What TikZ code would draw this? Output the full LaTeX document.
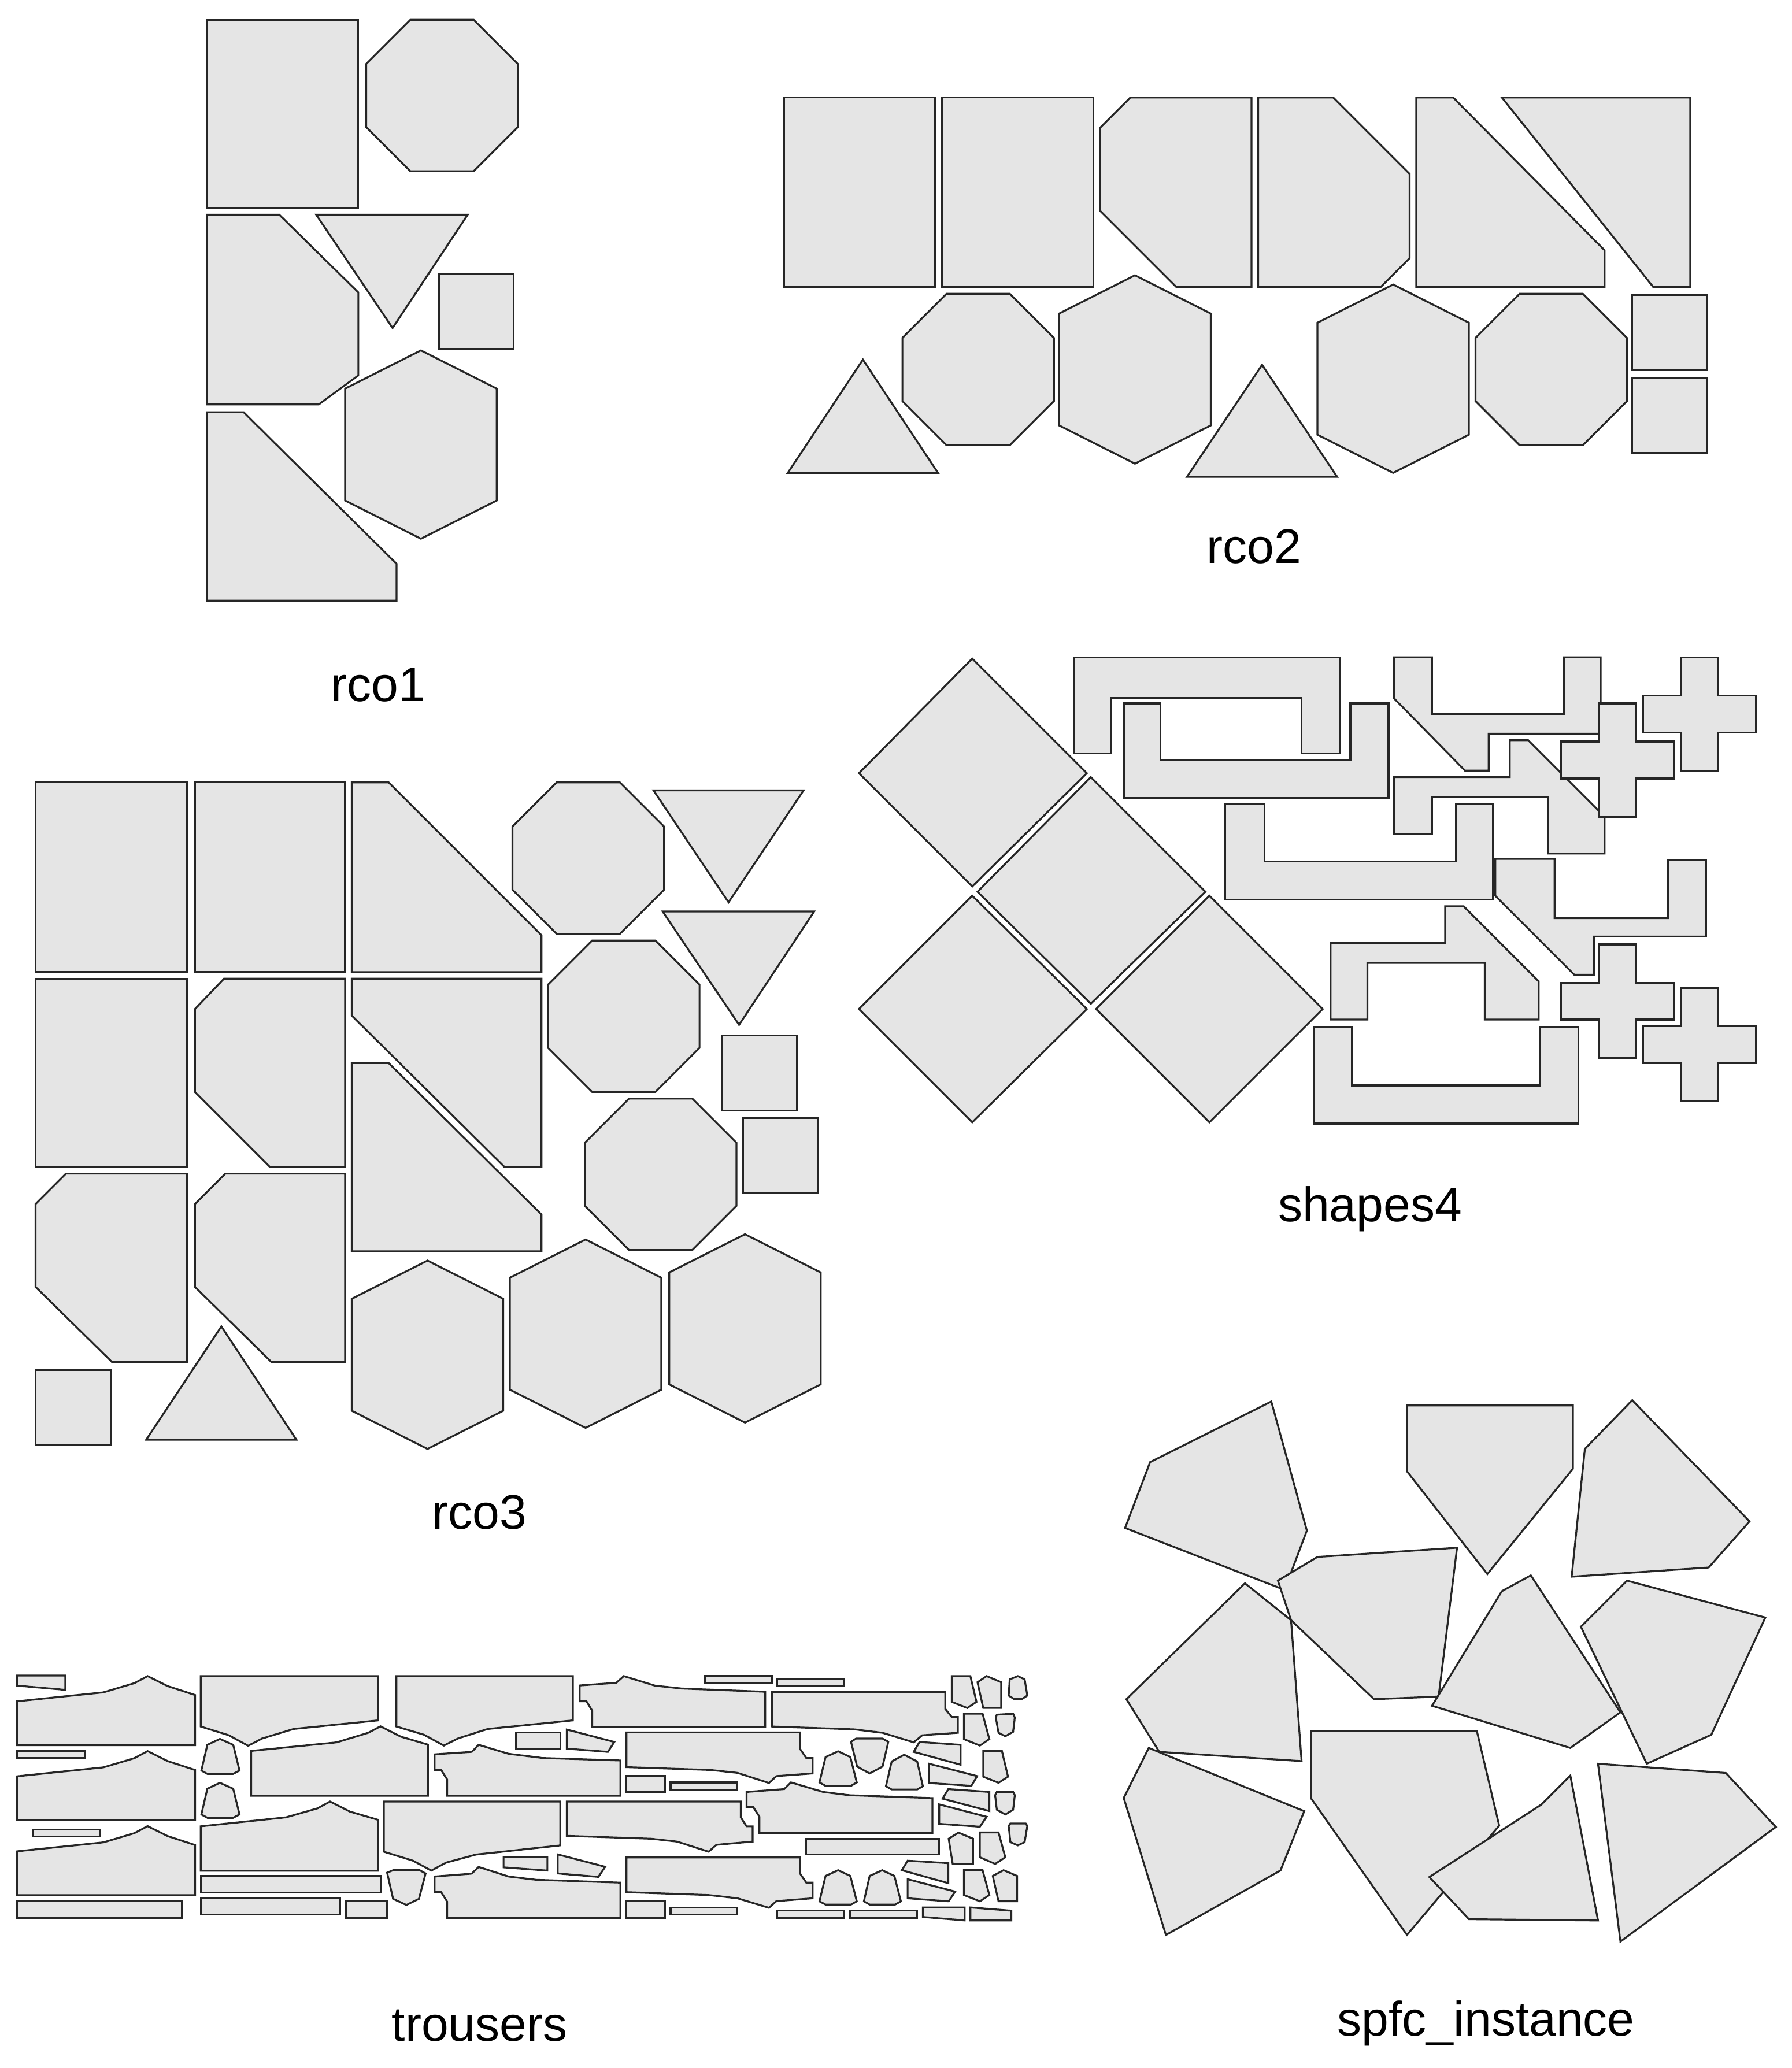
\documentclass[tikz,border=0pt]{standalone}
\usepackage{fontspec}
\setmainfont{Liberation Sans}
\begin{document}
\begin{tikzpicture}[x=0.02cm,y=-0.02cm,
 pc/.style={draw=black!85,fill=gray!20,line width=0.8pt,line join=miter},
 lbl/.style={font=\fontsize{21}{25}\selectfont}]
\useasboundingbox (0,0) rectangle (1360,1570);
\newcommand\poly[1]{\draw[pc] #1 -- cycle;}
\newcommand\oct[2]{\draw[pc] (#1+33.5,#2) -- ++(48,0) -- ++(33.5,33.5) -- ++(0,48) -- ++(-33.5,33.5) -- ++(-48,0) -- ++(-33.5,-33.5) -- ++(0,-48) -- cycle;}
\newcommand\hex[2]{\draw[pc] (#1+57.5,#2) -- ++(57.5,29) -- ++(0,85) -- ++(-57.5,29) -- ++(-57.5,-29) -- ++(0,-85) -- cycle;}
\newcommand\sq[2]{\draw[pc] (#1,#2) rectangle ++(57,57);}
\newcommand\crs[2]{\draw[pc] (#1-14,#2-43) -- ++(28,0) -- ++(0,29) -- ++(29,0) -- ++(0,28) -- ++(-29,0) -- ++(0,29) -- ++(-28,0) -- ++(0,-29) -- ++(-29,0) -- ++(0,-28) -- ++(29,0) -- cycle;}
% ---------- rco1
\draw[pc] (157,15) rectangle (272,158);
\oct{278}{15}
\poly{(157,163)--(212,163)--(272,222)--(272,285)--(242,307)--(157,307)}
\poly{(240,163)--(355,163)--(298,249)}
\sq{333}{208}
\hex{262}{266}
\poly{(157,313)--(185,313)--(301,428)--(301,456)--(157,456)}
\node[lbl] (l1) at (287,520) {rco1};
% ---------- rco2
\draw[pc] (595,74) rectangle (710,218);
\draw[pc] (715,74) rectangle (830,218);
\poly{(858,74)--(950,74)--(950,218)--(893,218)--(835,160)--(835,97)}
\poly{(955,74)--(1012,74)--(1070,132)--(1070,196)--(1048,218)--(955,218)}
\poly{(1075,74)--(1103,74)--(1218,190)--(1218,218)--(1075,218)}
\poly{(1140,74)--(1283,74)--(1283,218)--(1255,218)}
\poly{(598,359)--(712,359)--(655,273)}
\oct{685}{223}
\hex{804}{209}
\poly{(901,362)--(1015,362)--(958,277)}
\hex{1000}{216}
\oct{1120}{223}
\sq{1239}{224}
\sq{1239}{287}
\node[lbl] (l2) at (952,415) {rco2};
% ---------- shapes4
\poly{(738,500)--(825,587)--(738,673)--(652,587)}
\poly{(828,590)--(915,677)--(828,762)--(742,677)}
\poly{(738,680)--(825,766)--(738,852)--(652,766)}
\poly{(918,680)--(1004,766)--(918,852)--(832,766)}
\poly{(815,499)--(1017,499)--(1017,572)--(988,572)--(988,530)--(843,530)--(843,572)--(815,572)}
\poly{(853,534)--(881,534)--(881,577)--(1025,577)--(1025,534)--(1054,534)--(1054,606)--(853,606)}
\poly{(1058,499)--(1087,499)--(1087,542)--(1187,542)--(1187,499)--(1215,499)--(1215,557)--(1130,557)--(1130,585)--(1112,585)--(1058,530)}
\poly{(1146,562)--(1160,562)--(1218,620)--(1218,648)--(1175,648)--(1175,605)--(1087,605)--(1087,633)--(1058,633)--(1058,590)--(1146,590)}
\poly{(930,610)--(960,610)--(960,654)--(1105,654)--(1105,610)--(1133,610)--(1133,683)--(930,683)}
\poly{(1135,680)--(1135,652)--(1150,652)--(1180,652)--(1180,697)--(1266,697)--(1266,653)--(1295,653)--(1295,711)--(1210,711)--(1210,740)--(1195,740)}
\poly{(1010,716)--(1097,716)--(1097,688)--(1111,688)--(1168,745)--(1168,774)--(1127,774)--(1127,731)--(1038,731)--(1038,774)--(1010,774)}
\poly{(997,780)--(1026,780)--(1026,824)--(1169,824)--(1169,780)--(1198,780)--(1198,853)--(997,853)}
\crs{1228}{577}
\crs{1290}{542}
\crs{1228}{760}
\crs{1290}{793}
\node[lbl] (l4) at (1040,918) {shapes4};
% ---------- rco3
\draw[pc] (27,594) rectangle (142,738);
\draw[pc] (148,594) rectangle (262,738);
\poly{(267,594)--(295,594)--(411,710)--(411,738)--(267,738)}
\oct{389}{594}
\poly{(496,600)--(610,600)--(553,685)}
\poly{(503,692)--(618,692)--(561,778)}
\draw[pc] (27,743) rectangle (142,886);
\poly{(170,743)--(262,743)--(262,886)--(205,886)--(148,829)--(148,766)}
\poly{(267,743)--(411,743)--(411,886)--(383,886)--(267,771)}
\oct{416}{714}
\sq{548}{786}
\poly{(267,807)--(295,807)--(411,922)--(411,950)--(267,950)}
\oct{444}{834}
\sq{564}{849}
\poly{(50,891)--(142,891)--(142,1034)--(85,1034)--(27,977)--(27,914)}
\poly{(171,891)--(262,891)--(262,1034)--(206,1034)--(148,977)--(148,914)}
\hex{267}{957}
\hex{387}{941}
\hex{508}{937}
\sq{27}{1040}
\poly{(111,1093)--(225,1093)--(168,1007)}
\node[lbl] (l3) at (364,1148) {rco3};
% ---------- spfc_instance
\poly{(873,1110)--(965,1064)--(992,1162)--(975,1207)--(854,1160)}
\poly{(1068,1067)--(1194,1067)--(1194,1115)--(1129,1195)--(1068,1117)}
\poly{(1239,1063)--(1328,1155)--(1297,1190)--(1193,1197)--(1203,1100)}
\poly{(855,1290)--(945,1202)--(980,1230)--(988,1337)--(880,1330)}
\poly{(970,1200)--(1000,1182)--(1106,1175)--(1092,1288)--(1043,1290)--(980,1230)}
\poly{(1087,1295)--(1140,1208)--(1162,1196)--(1230,1300)--(1192,1327)}
\poly{(1200,1235)--(1235,1200)--(1340,1228)--(1299,1317)--(1250,1339)}
\poly{(853,1365)--(872,1327)--(990,1375)--(972,1420)--(885,1469)}
\poly{(995,1365)--(995,1314)--(1121,1314)--(1138,1386)--(1068,1469)}
\poly{(1085,1425)--(1170,1370)--(1192,1348)--(1213,1458)--(1115,1457)}
\poly{(1213,1339)--(1310,1346)--(1348,1387)--(1230,1474)}
\node[lbl] (l5) at (1128,1536) {spfc\_instance};
% ---------- trousers (zoom frame 1)
\begin{scope}[shift={(0,1253.2)},xscale=0.2518,yscale=0.1449]
\poly{(52,130)--(197,130)--(197,205)--(52,183)}
\poly{(52,265)--(312,218)--(405,170)--(445,133)--(505,185)--(588,232)--(588,495)--(52,495)}
\draw[pc] (52,525) rectangle (255,563);
\poly{(52,658)--(312,611)--(405,563)--(445,526)--(505,578)--(588,625)--(588,888)--(52,888)}
\draw[pc] (100,937) rectangle (302,973);
\poly{(52,1051)--(312,1004)--(405,956)--(445,919)--(505,971)--(588,1018)--(588,1281)--(52,1281)}
\draw[pc] (52,1312) rectangle (549,1400);
\poly{(605,133)--(1140,133)--(1140,365)--(885,410)--(790,460)--(748,498)--(690,443)--(605,397)}
\poly{(625,493)--(663,462)--(703,493)--(722,628)--(702,646)--(626,646)--(607,628)}
\poly{(625,723)--(663,692)--(703,723)--(722,858)--(702,876)--(626,876)--(607,858)}
\poly{(757,525)--(1015,480)--(1110,430)--(1147,396)--(1208,450)--(1290,492)--(1290,760)--(757,760)}
\poly{(605,920)--(862,873)--(957,826)--(995,790)--(1055,843)--(1140,886)--(1140,1153)--(605,1153)}
\draw[pc] (605,1180) rectangle (1148,1267);
\draw[pc] (605,1298) rectangle (1025,1383);
\draw[pc] (1043,1312) rectangle (1167,1400);
\poly{(1167,1163)--(1185,1150)--(1265,1150)--(1283,1167)--(1263,1300)--(1225,1332)--(1185,1300)}
\poly{(1195,133)--(1727,133)--(1727,365)--(1470,410)--(1380,460)--(1338,497)--(1278,440)--(1195,397)}
\poly{(1310,543)--(1422,530)--(1443,493)--(1533,540)--(1635,562)--(1870,575)--(1870,760)--(1348,760)--(1348,675)--(1330,625)--(1310,625)}
\poly{(1157,790)--(1689,790)--(1689,1020)--(1435,1068)--(1345,1110)--(1300,1152)--(1245,1100)--(1157,1053)}
\poly{(1518,1082)--(1650,1082)--(1650,1152)--(1518,1135)}
\poly{(1310,1183)--(1422,1168)--(1443,1133)--(1533,1183)--(1615,1200)--(1870,1215)--(1870,1400)--(1348,1400)--(1348,1315)--(1330,1265)--(1310,1265)}
\end{scope}
% ---------- trousers (zoom frame 2)
\begin{scope}[shift={(386,1253.2)},xscale=0.2574,yscale=0.1449]
\poly{(210,182)--(318,168)--(340,133)--(432,183)--(510,198)--(757,215)--(757,400)--(247,400)--(247,315)--(230,265)--(210,265)}
\draw[pc] (580,133) rectangle (777,170);
\draw[pc] (793,150) rectangle (990,187);
\poly{(777,217)--(1288,217)--(1288,305)--(1307,347)--(1325,347)--(1325,430)--(1220,443)--(1195,480)--(1103,430)--(1020,412)--(777,397)}
\poly{(1307,133)--(1362,133)--(1380,268)--(1353,300)--(1307,268)}
\poly{(1383,165)--(1410,133)--(1453,165)--(1453,300)--(1400,300)}
\poly{(1478,150)--(1502,133)--(1522,150)--(1530,235)--(1515,252)--(1490,252)--(1475,235)}
\poly{(1343,330)--(1398,330)--(1418,463)--(1390,497)--(1343,463)}
\poly{(1440,335)--(1488,330)--(1493,350)--(1488,425)--(1465,448)--(1445,430)--(1437,350)}
\draw[pc] (22,428) rectangle (153,513);
\poly{(172,413)--(312,478)--(293,530)--(172,513)}
\poly{(348,428)--(860,428)--(860,515)--(878,562)--(897,562)--(897,643)--(790,657)--(768,693)--(675,640)--(597,625)--(348,610)}
\poly{(1010,477)--(1025,460)--(1103,460)--(1120,477)--(1103,607)--(1065,643)--(1028,607)}
\poly{(935,557)--(972,527)--(1008,557)--(1027,690)--(1010,708)--(935,708)--(917,690)}
\poly{(1130,580)--(1167,545)--(1205,580)--(1222,710)--(1205,727)--(1130,727)--(1113,710)}
\poly{(1212,478)--(1333,493)--(1333,597)--(1195,530)}
\poly{(1240,592)--(1382,657)--(1365,708)--(1240,693)}
\poly{(1400,525)--(1455,525)--(1473,660)--(1445,692)--(1400,660)}
\draw[pc] (348,657) rectangle (462,742);
\draw[pc] (478,690) rectangle (675,728);
\poly{(702,740)--(813,725)--(833,690)--(928,740)--(1005,757)--(1250,772)--(1250,955)--(740,955)--(740,870)--(722,820)--(702,820)}
\poly{(1297,725)--(1418,740)--(1418,840)--(1280,775)}
\poly{(1440,740)--(1488,740)--(1493,757)--(1488,833)--(1465,858)--(1440,833)--(1435,757)}
\poly{(1270,805)--(1410,870)--(1390,922)--(1270,907)}
\poly{(172,790)--(685,790)--(685,873)--(702,920)--(720,920)--(720,1000)--(613,1017)--(590,1053)--(497,1000)--(420,985)--(172,970)}
\draw[pc] (878,985) rectangle (1270,1068);
\poly{(1480,905)--(1525,905)--(1530,918)--(1522,1003)--(1502,1020)--(1480,1003)--(1475,918)}
\poly{(1298,985)--(1327,953)--(1370,985)--(1370,1118)--(1310,1118)}
\poly{(1390,952)--(1445,952)--(1465,1082)--(1435,1117)--(1390,1082)}
\poly{(145,1067)--(285,1132)--(265,1185)--(145,1167)}
\poly{(348,1083)--(860,1083)--(860,1168)--(878,1215)--(897,1215)--(897,1297)--(790,1312)--(768,1347)--(675,1297)--(590,1280)--(348,1265)}
\poly{(1177,1100)--(1297,1113)--(1297,1218)--(1160,1150)}
\poly{(1177,1197)--(1317,1262)--(1298,1313)--(1177,1297)}
\poly{(935,1180)--(972,1150)--(1008,1180)--(1027,1313)--(1010,1330)--(935,1330)--(917,1313)}
\poly{(1065,1180)--(1102,1150)--(1138,1180)--(1157,1313)--(1140,1330)--(1065,1330)--(1048,1313)}
\poly{(1343,1150)--(1398,1150)--(1418,1280)--(1390,1313)--(1343,1280)}
\poly{(1428,1180)--(1460,1150)--(1500,1180)--(1500,1313)--(1445,1313)}
\draw[pc] (348,1312) rectangle (462,1400);
\draw[pc] (478,1345) rectangle (675,1383);
\draw[pc] (793,1362) rectangle (990,1400);
\draw[pc] (1008,1362) rectangle (1205,1400);
\poly{(1222,1345)--(1345,1345)--(1345,1413)--(1222,1395)}
\poly{(1362,1345)--(1483,1362)--(1483,1413)--(1362,1413)}
\end{scope}
\node[lbl] (l6) at (364,1538) {trousers};
\end{tikzpicture}
\end{document}
